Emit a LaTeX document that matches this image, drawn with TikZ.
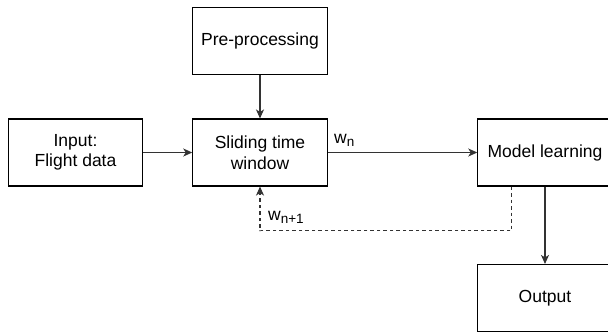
\documentclass[tikz,border=0pt]{standalone}
\usepackage{fontspec}
\setmainfont{Liberation Sans}
\usetikzlibrary{arrows.meta}
\newcommand{\mysub}[1]{\raisebox{-3.2pt}{\fontsize{13.5}{14}\selectfont #1}}
\begin{document}
\begin{tikzpicture}[x=1pt,y=1pt,
  box/.style={draw=black,line width=1.1pt,minimum width=134.4pt,minimum height=67pt,inner sep=0pt,align=center,font=\fontsize{17.5}{20.5}\selectfont},
  conn/.style={draw=black!80,line width=1.1pt,-{Stealth[length=9pt,width=8pt,inset=2.5pt]}},
  lbl/.style={inner sep=0pt,font=\fontsize{17.5}{20.5}\selectfont}]
\useasboundingbox (0,0) rectangle (608,-333);
\node[box] (pre) at (260,-40.7) {Pre-processing};
\node[box] (inp) at (75.5,-152.5) {Input:\\Flight data};
\node[box] (sld) at (260,-152.5) {Sliding time\\window};
\node[box] (mdl) at (545,-152.5) {Model learning};
\node[box] (out) at (545,-298) {Output};
\draw[conn] (pre) -- (sld);
\draw[conn] (inp) -- (sld);
\draw[conn] (sld) -- (mdl);
\draw[conn] (mdl) -- (out);
\coordinate (d1) at (511.7,-230.7);
\coordinate (d2) at (260,-230.7);
\draw[conn,dashed,dash pattern=on 3.5pt off 3pt] (mdl.south -| d1) -- (d1) -- (d2) -- (sld.south);
\node[lbl,anchor=base west] (wn) at (334,-143.5) {w\mysub{n}};
\node[lbl,anchor=base west] (wn1) at (268,-220) {w\mysub{n+1}};
\end{tikzpicture}
\end{document}
